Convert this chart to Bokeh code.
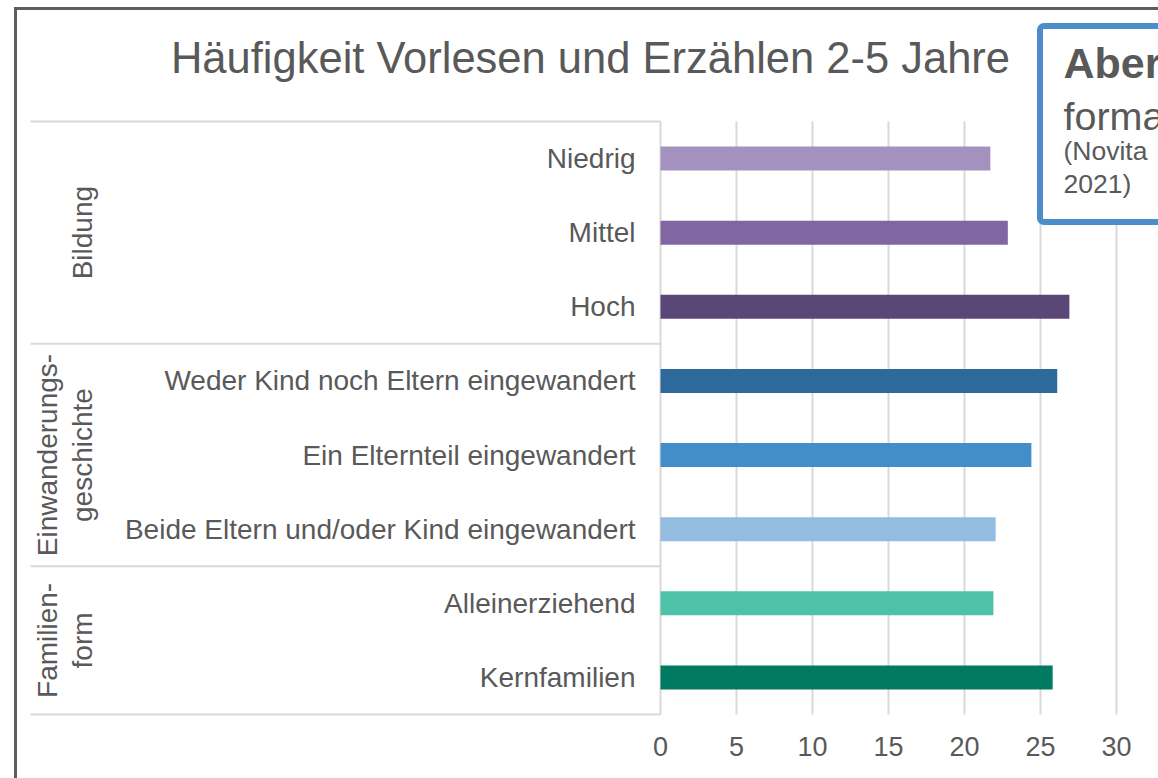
import math
from bokeh.plotting import figure
from bokeh.models import Range1d, FixedTicker, BoxAnnotation, Label
from bokeh.embed import file_html
from bokeh.resources import INLINE
from bokeh.core.properties import value

# ---------------- data ----------------
title_text = "Häufigkeit Vorlesen und Erzählen 2-5 Jahre"
categories = [
    "Niedrig",
    "Mittel",
    "Hoch",
    "Weder Kind noch Eltern eingewandert",
    "Ein Elternteil eingewandert",
    "Beide Eltern und/oder Kind eingewandert",
    "Alleinerziehend",
    "Kernfamilien",
]
groups = ["Bildung", "Einwanderungs-\ngeschichte", "Familien-\nform"]
group_sizes = [3, 3, 2]
values = [21.7, 22.85, 26.9, 26.1, 24.4, 22.05, 21.9, 25.8]
x_ticks = [0, 5, 10, 15, 20, 25, 30]
x_tick_labels = ["0", "5", "10", "15", "20", "25", "30"]
note_lines = ["Aber", "forma", "(Novita", "2021)"]

# ---------------- styles ----------------
bar_colors = ["#A591C0", "#8166A4", "#5B4777", "#2D6A9B", "#438DC9",
              "#93BCE0", "#4DC2A9", "#007B61"]
TXT = "#595959"
GRID = "#D9D9D9"
FONT = "Liberation Sans"

# ---------------- layout (picture pixels) ----------------
W, H = 1158, 778
OFF = 0
X0, PPU = 660.0, 15.2      # x pixel of value 0, pixels per unit
Y0, ROW = 158.0, 74.14     # y pixel of first row centre, row pitch


def px2x(px):
    return (px - X0) / PPU


def py2y(py):
    return (py - Y0) / ROW


n = len(categories)
idx = list(range(n))

p = figure(width=W, height=H,
           x_range=Range1d(px2x(OFF), px2x(OFF + W)),
           y_range=Range1d(py2y(OFF + H), py2y(OFF)),
           output_backend="svg", toolbar_location=None,
           min_border=0, y_axis_location=None,
           outline_line_color=None, background_fill_color="white",
           border_fill_color="white")
p.xgrid.visible = False
p.ygrid.visible = False

# x axis drawn inside the frame at the bottom of the category block
ax = p.xaxis[0]
ax.fixed_location = n - 0.5
ax.ticker = FixedTicker(ticks=x_ticks)
ax.major_label_overrides = {t: l for t, l in zip(x_ticks, x_tick_labels)}
ax.axis_line_color = None
ax.major_tick_line_color = None
ax.minor_tick_line_color = None
ax.major_tick_out = 0
ax.major_tick_in = 0
ax.major_label_standoff = 22
ax.major_label_text_font_size = "27px"
ax.major_label_text_color = TXT
ax.major_label_text_font = FONT

# vertical grid lines over the category block
p.segment(x0=x_ticks, x1=x_ticks, y0=[-0.5] * len(x_ticks), y1=[n - 0.5] * len(x_ticks),
          line_color=GRID, line_width=2)

# group separator lines
bounds = [-0.5]
for s in group_sizes:
    bounds.append(bounds[-1] + s)
p.segment(x0=[px2x(30)] * len(bounds), x1=[0] * len(bounds), y0=bounds, y1=bounds,
          line_color=GRID, line_width=2)

# bars
p.hbar(y=idx, left=0, right=values, height=0.324, fill_color=bar_colors, line_color=None)

# category labels
p.text(x=[px2x(635)] * n, y=idx, text=categories, text_align="right",
       text_baseline="middle", text_font_size="28px", text_color=TXT,
       text_font=value(FONT))

# rotated group labels (line centres in x)
gx, gy, gt = [], [], []
start = 0
for name, size in zip(groups, group_sizes):
    centre = start + (size - 1) / 2
    lines = name.split("\n")
    for k, line in enumerate(lines):
        gx.append(px2x(81.5 - (len(lines) - 1 - k) * 34.4))
        gy.append(centre)
        gt.append(line)
    start += size
p.text(x=gx, y=gy, text=gt, angle=math.pi / 2, text_align="center",
       text_baseline="middle", text_font_size="28px", text_color=TXT,
       text_font=value(FONT))

# title
p.text(x=[px2x(590)], y=[py2y(57)], text=[title_text], text_align="center",
       text_baseline="middle", text_font_size="43.5px", text_color=TXT,
       text_font=value(FONT))

# slide frame lines (top and left)
p.segment(x0=[px2x(14), px2x(15)], x1=[px2x(1200), px2x(15)],
          y0=[py2y(8), py2y(6.5)], y1=[py2y(8), py2y(800)],
          line_color="#5E5E5E", line_width=3)

# note box
box = BoxAnnotation(left=px2x(1039.5), right=px2x(1250), top=py2y(25.5), bottom=py2y(221.5),
                    fill_color="white", fill_alpha=1.0, line_color="#4A8DC9",
                    line_alpha=1.0, line_width=6, border_radius=4)
p.add_layout(box)

note_styles = [("43px", "bold", 62.5), ("39.5px", "normal", 115),
               ("26.5px", "normal", 150.5), ("26.5px", "normal", 183.5)]
for txt, (fs, fst, mid) in zip(note_lines, note_styles):
    p.add_layout(Label(x=px2x(1063), y=py2y(mid), text=txt, text_font=FONT,
                       text_font_size=fs, text_font_style=fst, text_color=TXT,
                       text_baseline="middle", text_align="left"))

open("out.html", "w").write(file_html(p, INLINE))
